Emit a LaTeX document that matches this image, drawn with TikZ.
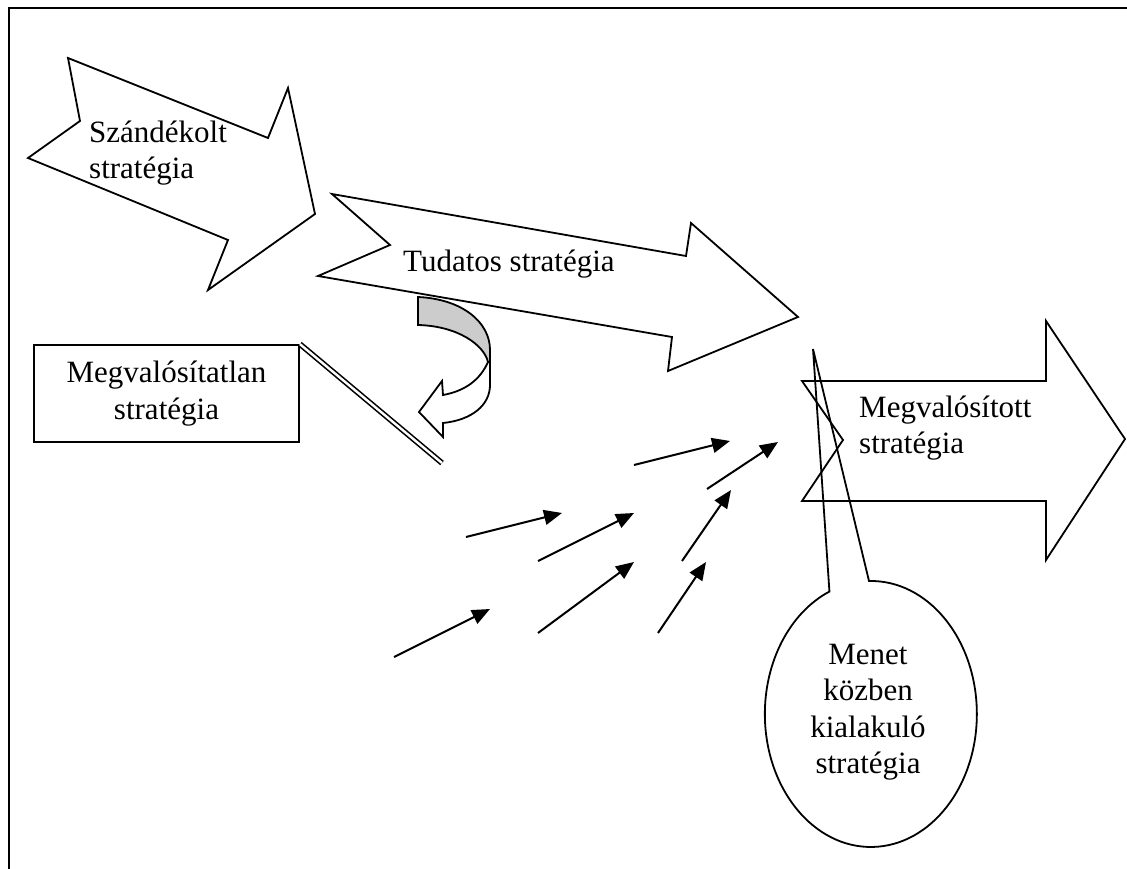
\documentclass[tikz,border=0pt]{standalone}
\usepackage{fontspec}
\setmainfont{Liberation Serif}
\usetikzlibrary{arrows.meta}
\begin{document}
\begin{tikzpicture}[x=1pt,y=-1pt,
  outline/.style={draw=black, line width=1.8pt, line join=miter, fill=white},
  lbl/.style={font=\fontsize{31}{36.5}\selectfont, inner sep=0pt},
  flow/.style={line width=2pt, -{Triangle[length=18pt,width=15pt]}},
  frameline/.style={line width=2.8pt}]
\useasboundingbox (0,0) rectangle (1127,869);
\draw[frameline] (9,869) -- (9,8) -- (1127,8);

% Szándékolt stratégia arrow
\draw[outline] (68,58) -- (268,138) -- (288,88) -- (315,214) -- (208,290) -- (228,240) -- (28,158) -- (80,121) -- cycle;
\node[lbl, anchor=west, align=left] (szand) at (89,153) {Szándékolt\\stratégia};

% Tudatos stratégia arrow
\draw[outline] (332,194) -- (686,256) -- (691,223) -- (798,317) -- (668,371) -- (672,337) -- (318,276) -- (390,245) -- cycle;
\node[lbl, anchor=base west] (tudatos) at (403,271) {Tudatos stratégia};

% Megvalósított stratégia arrow
\draw[outline] (802,381) -- (1046,381) -- (1046,321) -- (1125,439) -- (1046,560) -- (1046,501) -- (802,501) -- (843,440) -- cycle;
\node[lbl, anchor=west, align=left] (megval) at (859,428) {Megvalósított\\stratégia};

% callout
\draw[line width=1.8pt] (813,349) -- (869,581) arc[start angle=-91, end angle=247, x radius=106, y radius=133] -- cycle;
\node[lbl, align=center] (menet) at (868,712) {Menet\\közben\\kialakuló\\stratégia};

% Megvalósítatlan box
\node[lbl, draw, line width=1.8pt, minimum width=265pt, minimum height=97pt, align=center] (megvtl) at (166.5,393.5) {Megvalósítatlan\\stratégia};
\coordinate (dlend) at (442,463);
\draw[double, double distance=2.4pt, line width=1.6pt] (megvtl.north east) -- (dlend);

% curved arrow
\draw[line width=1.8pt, fill=black!20] (418,297) .. controls (462,299) and (490,322) .. (490,350) -- (490,362) -- (488,362) .. controls (484,345) and (458,326) .. (418,325) -- cycle;
\draw[line width=1.8pt, fill=white, line join=miter] (488,362) .. controls (480,380) and (465,391) .. (443,395) -- (442,381) -- (419,412) -- (443,437) -- (443,423) .. controls (472,420) and (490,405) .. (490,385) -- (490,362) -- cycle;

% small arrows
\coordinate (a1) at (634,465); \coordinate (b1) at (730,441);
\coordinate (a2) at (707,489); \coordinate (b2) at (778,442);
\coordinate (a3) at (466,537); \coordinate (b3) at (562,513);
\coordinate (a4) at (538,561); \coordinate (b4) at (634,513);
\coordinate (a5) at (682,561); \coordinate (b5) at (731,490);
\coordinate (a6) at (394,657); \coordinate (b6) at (490,609);
\coordinate (a7) at (538,633); \coordinate (b7) at (634,562);
\coordinate (a8) at (658,633); \coordinate (b8) at (706,562);
\foreach \i in {1,...,8} \draw[flow] (a\i) -- (b\i);
\end{tikzpicture}
\end{document}
